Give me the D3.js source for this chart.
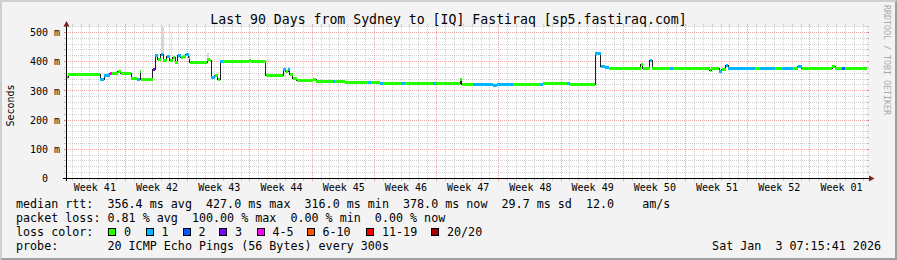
<!DOCTYPE html>
<html>
<head>
<meta charset="utf-8">
<script src="https://cdn.jsdelivr.net/npm/d3@7"></script>
<style>
  body { margin: 0; background: #f3f3f3; }
  text { font-family: "DejaVu Sans Mono", monospace; white-space: pre; }
</style>
</head>
<body>
<svg id="chart" width="897" height="260"></svg>
<script>
// time window (graph is 90 days)
const startTime = Date.UTC(2025, 9, 5, 8, 50);
const endTime = startTime + 90 * 864e5;

// median rtt as steps: day offset from start, rtt in ms, loss class index
const segDay = [0, 0.17, 3.77, 4.22, 4.89, 5.12, 5.34, 5.79, 6.13, 7.31, 7.88, 8.27, 8.38,
  9.73, 9.96, 10.29, 10.58, 10.91, 11.25, 11.64, 11.93, 12.21, 12.49, 12.83, 13.16, 13.44, 13.73,
  13.89, 15.86, 16.09, 16.31, 16.65, 16.99, 17.27, 17.61, 20.53, 20.76, 22.44, 23.57, 24.36, 24.69,
  24.92, 25.14, 25.48, 25.93, 27.73, 28.07, 29.98, 30.21, 31.33, 33.92, 34.26, 35.27, 35.61, 37.74,
  38.08, 41.23, 41.57, 44.27, 44.44, 45.73, 47.98, 48.43, 50.23, 53.27, 53.61, 56.31, 56.64, 59.46,
  60.08, 60.58, 61.03, 64.63, 64.80, 65.64, 65.87, 67.89, 68.23, 72.39, 72.56, 73.41, 73.74, 74.19,
  74.42, 76.56, 77.46, 78.02, 79.71, 80.49, 81.73, 82.29, 82.74, 86.12, 86.46, 87.24, 87.58];
const segRtt = [347, 355, 338, 351, 358, 358, 360, 366, 358, 341, 338, 365, 340,
  374, 420, 406, 424, 402, 417, 402, 415, 398, 420, 413, 417, 424, 415,
  398, 408, 403, 345, 351, 338, 399, 400, 404, 400, 354, 351, 372, 366,
  374, 355, 343, 336, 339, 333, 333, 331, 328, 327, 327, 325, 326, 326,
  325, 324, 325, 337, 323, 322, 318, 322, 323, 323, 324, 324, 323, 428,
  384, 379, 376, 390, 376, 403, 376, 378, 377, 368, 377, 365, 374, 386,
  376, 377, 377, 378, 377, 378, 377, 383, 378, 383, 378, 378, 378];
const segLoss = [0, 0, 1, 1, 4, 0, 0, 0, 0, 0, 1, 0, 0,
  3, 1, 0, 1, 0, 1, 0, 0, 0, 1, 0, 0, 1, 0,
  0, 0, 0, 1, 0, 0, 1, 0, 0, 0, 0, 0, 1, 0,
  1, 0, 0, 0, 0, 0, 1, 0, 0, 1, 0, 1, 0, 1,
  0, 1, 0, 0, 0, 1, 1, 1, 0, 1, 0, 1, 0, 1,
  1, 1, 0, 0, 0, 1, 0, 1, 0, 0, 0, 1, 0, 1,
  1, 1, 0, 1, 0, 1, 0, 1, 0, 0, 0, 2, 0];

// smoke (spread of single pings)
const smokeStart = [10.63, 11.76, 15.86];
const smokeEnd = [10.97, 11.87, 16.03];
const smokeLo = [425, 418, 408];
const smokeHi = [520, 505, 430];

const lossLabels = ["0", "1", "2", "3", "4-5", "6-10", "11-19", "20/20"];
const lossColors = ["#26ff00", "#00b8ff", "#0059ff", "#7e00ff", "#ff00ff", "#ff5500", "#ff0000", "#a10000"];
const yTicks = [0, 100, 200, 300, 400, 500];

const rttStats = [356.4, 427.0, 316.0, 378.0, 29.7, 12.0];
const lossStats = [0.81, 100.00, 0.00, 0.00];

const svg = d3.select("#chart");
const W = 897, H = 260;

const x = d3.scaleUtc().domain([startTime, endTime]).range([66.5, 866.5]);
const y = d3.scaleLinear().domain([0, 520]).range([178.5, 26.5]);
const t = d => new Date(startTime + d * 864e5);
const snap = v => Math.floor(v) + 0.5;

// background + 3d border
svg.append("rect").attr("width", W).attr("height", H).attr("fill", "#f3f3f3");
svg.append("path").attr("d", `M0,${H}L2,${H - 2}L2,2L${W - 2},2L${W},0L0,0Z`).attr("fill", "#cfcfcf");
svg.append("path").attr("d", `M2,${H - 2}L${W - 2},${H - 2}L${W - 2},2L${W},0L${W},${H}L0,${H}Z`).attr("fill", "#9e9e9e");
svg.append("rect").attr("x", 66.5).attr("y", 26.5).attr("width", 800).attr("height", 152).attr("fill", "#fff");

const grid = svg.append("g").attr("stroke-width", 1).attr("shape-rendering", "crispEdges");
const minorCol = "rgba(143,143,143,0.4)", majorCol = "rgba(222,80,80,0.5)";

// horizontal grid
d3.range(20, 521, 20).forEach(v => {
  const yy = snap(y(v));
  const col = v % 100 === 0 ? majorCol : minorCol;
  grid.append("line").attr("x1", 64).attr("x2", 869).attr("y1", yy).attr("y2", yy)
    .attr("stroke", col).attr("stroke-dasharray", "1,1");
  grid.append("line").attr("x1", 64).attr("x2", 66).attr("y1", yy).attr("y2", yy).attr("stroke", col);
  grid.append("line").attr("x1", 867).attr("x2", 869).attr("y1", yy).attr("y2", yy).attr("stroke", col);
});

// vertical grid: days minor, weeks (Sunday) major
d3.utcDay.range(new Date(startTime), new Date(endTime)).forEach(d => {
  const xx = snap(x(d));
  const col = d.getUTCDay() === 0 ? majorCol : minorCol;
  grid.append("line").attr("x1", xx).attr("x2", xx).attr("y1", 27).attr("y2", 178)
    .attr("stroke", col).attr("stroke-dasharray", "1,1");
  grid.append("line").attr("x1", xx).attr("x2", xx).attr("y1", 24).attr("y2", 26).attr("stroke", col);
  grid.append("line").attr("x1", xx).attr("x2", xx).attr("y1", 179).attr("y2", 181).attr("stroke", col);
});

// smoke
const smoke = svg.append("g").attr("shape-rendering", "crispEdges");
smokeStart.forEach((s, i) => {
  smoke.append("rect")
    .attr("x", x(t(s))).attr("width", Math.max(1, x(t(smokeEnd[i])) - x(t(s))))
    .attr("y", y(smokeHi[i])).attr("height", y(smokeLo[i]) - y(smokeHi[i]))
    .attr("fill", i === 1 ? "#e4e4e4" : "#d6d6d6");
});

// median line
const pts = segDay.map((d, i) => [t(d), segRtt[i]]);
pts.push([new Date(endTime), segRtt[segRtt.length - 1]]);
svg.append("path")
  .attr("d", d3.line().x(p => x(p[0])).y(p => snap(y(p[1]))).curve(d3.curveStepAfter)(pts))
  .attr("fill", "none").attr("stroke", "#202020").attr("stroke-width", 1)
  .attr("shape-rendering", "crispEdges");

// loss coloured band
svg.append("g").attr("shape-rendering", "crispEdges")
  .selectAll("rect").data(segDay).join("rect")
  .attr("x", (d, i) => x(t(d)))
  .attr("width", (d, i) => x(i + 1 < segDay.length ? t(segDay[i + 1]) : new Date(endTime)) - x(t(d)))
  .attr("y", (d, i) => snap(y(segRtt[i])) - 1.5)
  .attr("height", 3)
  .attr("fill", (d, i) => lossColors[segLoss[i]]);

// axes lines + arrows
svg.append("line").attr("x1", 63).attr("x2", 869).attr("y1", 178.5).attr("y2", 178.5)
  .attr("stroke", "#000").attr("shape-rendering", "crispEdges");
svg.append("line").attr("x1", 66.5).attr("x2", 66.5).attr("y1", 181).attr("y2", 26)
  .attr("stroke", "#000").attr("shape-rendering", "crispEdges");
svg.append("path").attr("d", "M869,175.5L874.5,178.5L869,181.5Z").attr("fill", "#7f1f1f");
svg.append("path").attr("d", "M63.5,26.5L66.5,21L69.5,26.5Z").attr("fill", "#7f1f1f");

// y axis labels
const yAxis = svg.append("g").attr("transform", "translate(66.5,0)")
  .call(d3.axisLeft(y).tickValues(yTicks).tickSize(0).tickPadding(6.5)
    .tickFormat(v => v === 0 ? "0\u00a0\u00a0" : v + " m"));
yAxis.select(".domain").remove();
yAxis.selectAll("text").attr("font-family", "DejaVu Sans Mono").attr("font-size", 10).attr("fill", "#000");

// x axis week labels, centred in each week
const weekStarts = d3.utcSunday.range(t(-7), new Date(endTime));
const weekMid = weekStarts.map(w => new Date(+w + 3.5 * 864e5)).filter(m => m >= startTime && m <= endTime);
const fmtWeek = d3.utcFormat("%V");
const xAxis = svg.append("g").attr("transform", "translate(0,178.5)")
  .call(d3.axisBottom(x).tickValues(weekMid).tickSize(0).tickPadding(4.9)
    .tickFormat(d => "Week " + fmtWeek(d)));
xAxis.select(".domain").remove();
xAxis.selectAll("text").attr("font-family", "DejaVu Sans Mono").attr("font-size", 10).attr("fill", "#000");

// title and side labels
svg.append("text").attr("x", 448.5).attr("y", 23.5).attr("text-anchor", "middle")
  .attr("font-size", 13.2).text("Last 90 Days from Sydney to [IQ] Fastiraq [sp5.fastiraq.com]");
svg.append("text").attr("transform", "translate(13.5,105.5) rotate(-90)").attr("text-anchor", "middle")
  .attr("font-size", 10).text("Seconds");
svg.append("text").attr("transform", "translate(884,5) rotate(90)").attr("font-size", 8.3)
  .attr("fill", "#aaaaaa").text("RRDTOOL / TOBI OETIKER");

// legend
const lf = 11.7;
const f1 = v => v.toFixed(1);
const rttLine = "median rtt:  " + f1(rttStats[0]) + " ms avg  " + f1(rttStats[1]) + " ms max  " +
  f1(rttStats[2]) + " ms min  " + f1(rttStats[3]) + " ms now  " + f1(rttStats[4]) + " ms sd  " +
  f1(rttStats[5]) + "    am/s";
const lossLine = "packet loss: " + lossStats[0].toFixed(2) + " % avg  " + lossStats[1].toFixed(2) + " % max  " +
  lossStats[2].toFixed(2) + " % min  " + lossStats[3].toFixed(2) + " % now";
const leg = svg.append("g").attr("font-size", lf).attr("fill", "#000");
leg.append("text").attr("x", 16).attr("y", 207.5).text(rttLine);
leg.append("text").attr("x", 16).attr("y", 221.5).text(lossLine);
leg.append("text").attr("x", 16).attr("y", 235.5).text("loss color:");
leg.append("text").attr("x", 16).attr("y", 249.5).text("probe:       20 ICMP Echo Pings (56 Bytes) every 300s");
leg.append("text").attr("x", 881).attr("y", 249.5).attr("text-anchor", "end").text("Sat Jan  3 07:15:41 2026");

const boxX = [108.5, 146, 183, 219.5, 257, 307, 366.5, 431.5];
lossLabels.forEach((l, i) => {
  leg.append("rect").attr("x", boxX[i]).attr("y", 228.5).attr("width", 7).attr("height", 7)
    .attr("fill", lossColors[i]).attr("stroke", "#000").attr("shape-rendering", "crispEdges");
  leg.append("text").attr("x", boxX[i] + 15.5).attr("y", 235.5).text(l);
});
</script>
</body>
</html>
